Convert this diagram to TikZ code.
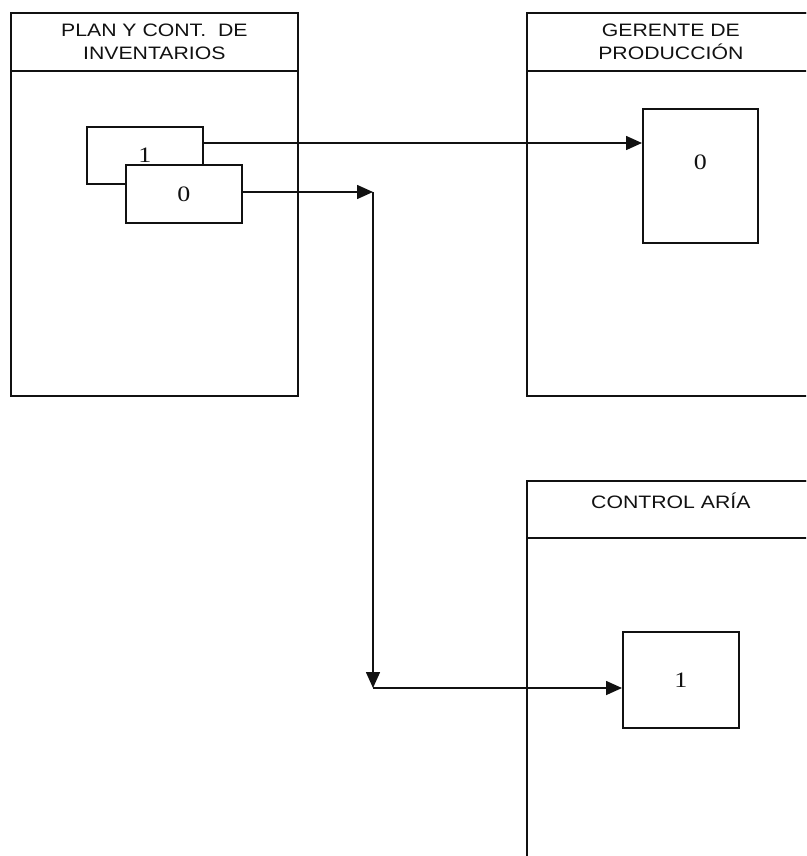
\documentclass[tikz,border=0pt]{standalone}
\usepackage{fontspec}
\setmainfont{Liberation Serif}
\newfontfamily\headfont{Liberation Sans}[FakeStretch=1.18]
\newfontfamily\digitfont{Liberation Serif}[FakeStretch=1.18]
\usetikzlibrary{arrows.meta, positioning, calc}
\definecolor{ink}{HTML}{111111}
\tikzset{
  >={Triangle[length=16pt, width=14pt]},
  %
  lane/.style={draw=ink, line width=1.7pt, anchor=north west, inner sep=0pt},
  lanehead/.style={lane, minimum height=58pt, align=center, text=ink,
                   font=\headfont\fontsize{18}{23}\selectfont},
  proc/.style={draw=ink, line width=1.7pt, fill=white, anchor=north west,
               inner sep=0pt, text=ink, font=\digitfont\fontsize{22}{24}\selectfont},
  digit/.style={text=ink, inner sep=0pt, font=\digitfont\fontsize{22}{24}\selectfont},
  %
  flow/.style={draw=ink, line width=1.6pt, ->},
}
\begin{document}
\begin{tikzpicture}[x=1pt, y=-1pt]
  \useasboundingbox (0,0) rectangle (806,856);
  \clip (0,0) rectangle (806,856);

  % --- lanes -------------------------------------------------------------
  \node[lane, minimum width=287pt, minimum height=383pt] (plan) at (10,12) {};
  \node[lanehead, minimum width=287pt] (planh) at (plan.north west)
    {PLAN Y CONT.\ \ DE\\INVENTARIOS};

  \node[lane, minimum width=288pt, minimum height=383pt] (ger) at (526,12) {};
  \node[lanehead, minimum width=288pt] (gerh) at (ger.north west)
    {GERENTE DE\\PRODUCCIÓN};

  \node[lane, minimum width=288pt, minimum height=420pt] (ctl) at (526,480) {};
  \node[lanehead, minimum width=288pt, minimum height=57pt] (ctlh) at (ctl.north west)
    {CONTROL ARÍA\\[-5pt]\mbox{}};

  % --- documents ---------------------------------------------------------
  \node[proc, minimum width=116pt, minimum height=57pt] (b1) at (86,126) {1\\[2pt]};
  \node[proc, minimum width=116pt, minimum height=58pt] (b0) at (125,164) {0\\[-10pt]\mbox{}};
  \node[proc, minimum width=115pt, minimum height=134pt] (r0) at (642,108) {};
  \node[digit] (r0t) at ([yshift=-54pt]r0.north) {0};
  \node[proc, minimum width=116pt, minimum height=96pt] (c1) at (622,631) {1};

  % --- connectors --------------------------------------------------------
  \coordinate (a1) at ([yshift=-17pt]b1.north east);
  \draw[flow] (a1) -- (a1 -| r0.west);

  \coordinate (split) at (373,192);
  \coordinate (turn) at (373,688);
  \draw[flow] (b0.east |- split) -- (split);
  \draw[flow] (split) -- (turn);
  \draw[flow] (turn) -- (turn -| c1.west);

\end{tikzpicture}
\end{document}
